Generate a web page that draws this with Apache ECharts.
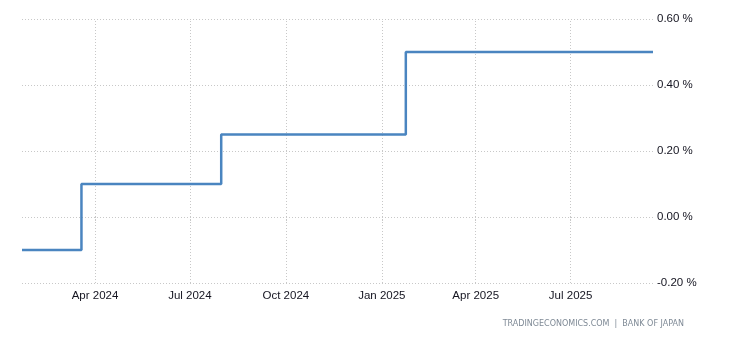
<!DOCTYPE html>
<html>
<head>
<meta charset="utf-8">
<script src="https://cdn.jsdelivr.net/npm/echarts@6/dist/echarts.min.js"></script>
<style>
html,body{margin:0;padding:0;background:#fff;}
#c{width:730px;height:340px;}
</style>
</head>
<body>
<div id="c"></div>
<script>
// Data
const dates = ['2024-01-22', '2024-03-19', '2024-07-31', '2025-01-24', '2025-09-18'];
const rates = [-0.10, 0.10, 0.25, 0.50, 0.50];
const tickDates = ['2024-04-01', '2024-07-01', '2024-10-01', '2025-01-01', '2025-04-01', '2025-07-01'];
const tickLabels = ['Apr 2024', 'Jul 2024', 'Oct 2024', 'Jan 2025', 'Apr 2025', 'Jul 2025'];
const yMin = -0.2, yMax = 0.6, yStep = 0.2;
const sourceText = 'TRADINGECONOMICS.COM  |  BANK OF JAPAN';

function ts(s) { return Date.UTC(+s.slice(0, 4), +s.slice(5, 7) - 1, +s.slice(8, 10)); }
const seriesData = dates.map((d, i) => [ts(d), rates[i]]);
const tickTs = tickDates.map(ts);

const gridStyle = { color: '#c8c8c8', type: [1, 2], width: 1 };

const chart = echarts.init(document.getElementById('c'), null, { renderer: 'canvas' });
chart.setOption({
  animation: false,
  backgroundColor: '#ffffff',
  textStyle: { fontFamily: 'Liberation Sans, Arial, sans-serif' },
  grid: { left: 22, right: 77, top: 19, bottom: 57, containLabel: false },
  xAxis: {
    type: 'value',
    min: ts(dates[0]),
    max: ts(dates[dates.length - 1]),
    axisLine: { show: false },
    axisTick: { show: true, length: 4, customValues: tickTs, lineStyle: gridStyle },
    axisLabel: {
      customValues: tickTs,
      color: '#141420',
      fontSize: 11.5,
      margin: 7,
      formatter: function (v) {
        const i = tickTs.indexOf(v);
        return i >= 0 ? tickLabels[i] : '';
      }
    },
    splitLine: { show: false }
  },
  yAxis: {
    type: 'value',
    position: 'right',
    min: yMin, max: yMax, interval: yStep,
    axisLine: { show: false },
    axisTick: { show: false },
    axisLabel: {
      color: '#141420',
      fontSize: 11.5,
      margin: 4,
      formatter: v => v.toFixed(2) + ' %'
    },
    splitLine: { show: true, lineStyle: gridStyle }
  },
  series: [{
    type: 'line',
    step: 'end',
    data: seriesData,
    showSymbol: false,
    z: 3,
    lineStyle: { color: '#4a85c0', width: 2.5 },
    itemStyle: { color: '#4a85c0' },
    markLine: {
      silent: true,
      symbol: ['none', 'none'],
      label: { show: false },
      lineStyle: gridStyle,
      z: 1,
      data: tickTs.map(t => ({ xAxis: t }))
    }
  }],
  graphic: [{
    type: 'text',
    right: 46,
    top: 320,
    style: {
      text: sourceText,
      fill: '#7f8a96',
      font: '8px "DejaVu Sans", sans-serif'
    }
  }]
});
</script>
</body>
</html>
